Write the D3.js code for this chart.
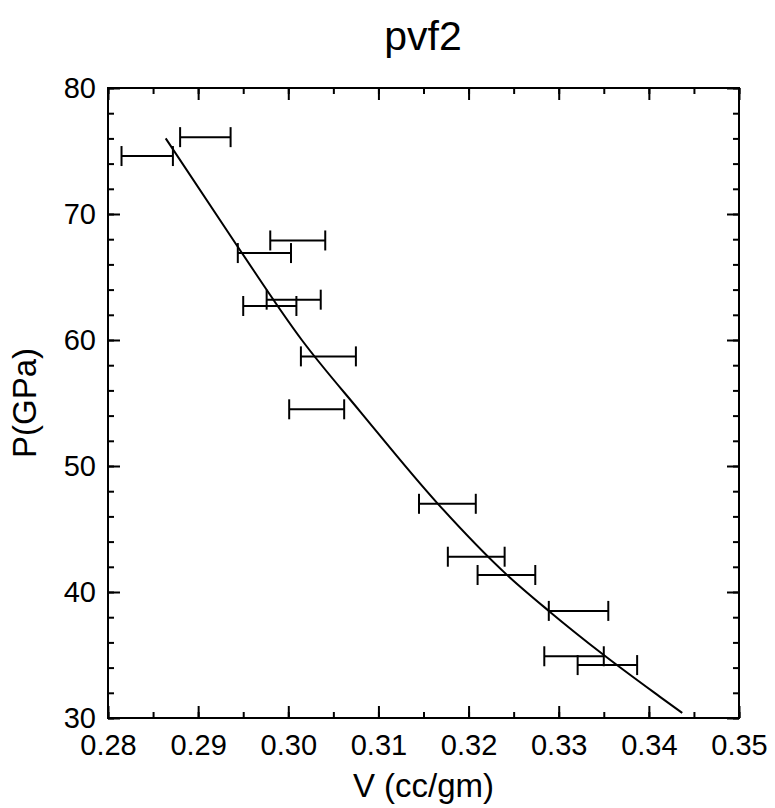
<!DOCTYPE html>
<html>
<head>
<script src="https://d3js.org/d3.v7.min.js"></script>
<style>
  body { margin: 0; background: #fff; }
  text { font-family: "Liberation Sans", Arial, sans-serif; fill: #000; }
</style>
</head>
<body>
<script>
// horizontal error bars: pressure, volume range (lo, hi)
var pressure = [76.1, 74.6, 67.9, 66.9, 63.2, 62.7, 58.7, 54.5, 47.0, 42.8, 41.35, 38.5, 34.9, 34.2];
var volLo    = [0.2880, 0.2815, 0.2980, 0.2944, 0.2976, 0.2950, 0.3014, 0.3001, 0.3145, 0.3177, 0.3210, 0.3289, 0.3284, 0.3321];
var volHi    = [0.2936, 0.2872, 0.3041, 0.3003, 0.3036, 0.3009, 0.3075, 0.3062, 0.3208, 0.3240, 0.3274, 0.3355, 0.3350, 0.3387];

// fitted curve
var fitV = [0.2864, 0.2943, 0.3015, 0.3080, 0.3166, 0.3242, 0.3289, 0.3350, 0.3412, 0.3437];
var fitP = [76.0, 67.5, 60.0, 54.3, 47.0, 41.4, 38.5, 35.0, 31.7, 30.4];

var xTicks = [0.28, 0.29, 0.30, 0.31, 0.32, 0.33, 0.34, 0.35];
var yTicks = [30, 40, 50, 60, 70, 80];

var width = 775, height = 808;
var plotL = 108, plotR = 739, plotT = 88, plotB = 718;

var svg = d3.select("body").append("svg")
    .attr("width", width)
    .attr("height", height);

var x = d3.scaleLinear().domain([0.28, 0.35]).range([plotL, plotR]);
var y = d3.scaleLinear().domain([30, 80]).range([plotB, plotT]);

var xMinor = d3.range(0.28, 0.3501, 0.005);
var yMinor = d3.range(30, 80.01, 2);

function styleAxis(g) {
    g.select(".domain").remove();
    g.selectAll(".tick line").attr("stroke", "#000").attr("stroke-width", 2);
}

// minor ticks
svg.append("g").attr("transform", "translate(0," + plotB + ")")
    .call(d3.axisBottom(x).tickValues(xMinor).tickSize(-6).tickFormat(""))
    .call(styleAxis);
svg.append("g").attr("transform", "translate(0," + plotT + ")")
    .call(d3.axisTop(x).tickValues(xMinor).tickSize(-6).tickFormat(""))
    .call(styleAxis);
svg.append("g").attr("transform", "translate(" + plotL + ",0)")
    .call(d3.axisLeft(y).tickValues(yMinor).tickSize(-6).tickFormat(""))
    .call(styleAxis);
svg.append("g").attr("transform", "translate(" + plotR + ",0)")
    .call(d3.axisRight(y).tickValues(yMinor).tickSize(-6).tickFormat(""))
    .call(styleAxis);

// major ticks
var xAxis = svg.append("g").attr("transform", "translate(0," + plotB + ")")
    .call(d3.axisBottom(x).tickValues(xTicks).tickSize(-12).tickPadding(16).tickFormat(d3.format(".2f")))
    .call(styleAxis);
svg.append("g").attr("transform", "translate(0," + plotT + ")")
    .call(d3.axisTop(x).tickValues(xTicks).tickSize(-12).tickFormat(""))
    .call(styleAxis);
var yAxis = svg.append("g").attr("transform", "translate(" + plotL + ",0)")
    .call(d3.axisLeft(y).tickValues(yTicks).tickSize(-12).tickPadding(12).tickFormat(d3.format("d")))
    .call(styleAxis);
svg.append("g").attr("transform", "translate(" + plotR + ",0)")
    .call(d3.axisRight(y).tickValues(yTicks).tickSize(-12).tickFormat(""))
    .call(styleAxis);

xAxis.selectAll(".tick text").attr("font-size", 29);
yAxis.selectAll(".tick text").attr("font-size", 29);

// frame
svg.append("rect")
    .attr("x", plotL).attr("y", plotT)
    .attr("width", plotR - plotL).attr("height", plotB - plotT)
    .attr("fill", "none").attr("stroke", "#000").attr("stroke-width", 2);

// error bars
var bars = svg.append("g").attr("stroke", "#000").attr("stroke-width", 2);
pressure.forEach(function(p, i) {
    bars.append("line")
        .attr("x1", x(volLo[i])).attr("x2", x(volHi[i]))
        .attr("y1", y(p)).attr("y2", y(p));
    [volLo[i], volHi[i]].forEach(function(v) {
        bars.append("line")
            .attr("x1", x(v)).attr("x2", x(v))
            .attr("y1", y(p) - 10).attr("y2", y(p) + 10);
    });
});

// fit line
var fit = fitV.map(function(v, i) { return [v, fitP[i]]; });
svg.append("path")
    .datum(fit)
    .attr("fill", "none")
    .attr("stroke", "#000")
    .attr("stroke-width", 2)
    .attr("d", d3.line()
        .x(function(d) { return x(d[0]); })
        .y(function(d) { return y(d[1]); })
        .curve(d3.curveMonotoneX));

// labels
svg.append("text")
    .attr("x", 423).attr("y", 50)
    .attr("text-anchor", "middle")
    .attr("font-size", 41)
    .text("pvf2");

svg.append("text")
    .attr("x", (plotL + plotR) / 2).attr("y", 797)
    .attr("text-anchor", "middle")
    .attr("font-size", 33)
    .text("V (cc/gm)");

svg.append("text")
    .attr("transform", "translate(36," + ((plotT + plotB) / 2) + ") rotate(-90)")
    .attr("text-anchor", "middle")
    .attr("font-size", 33)
    .text("P(GPa)");
</script>
</body>
</html>
